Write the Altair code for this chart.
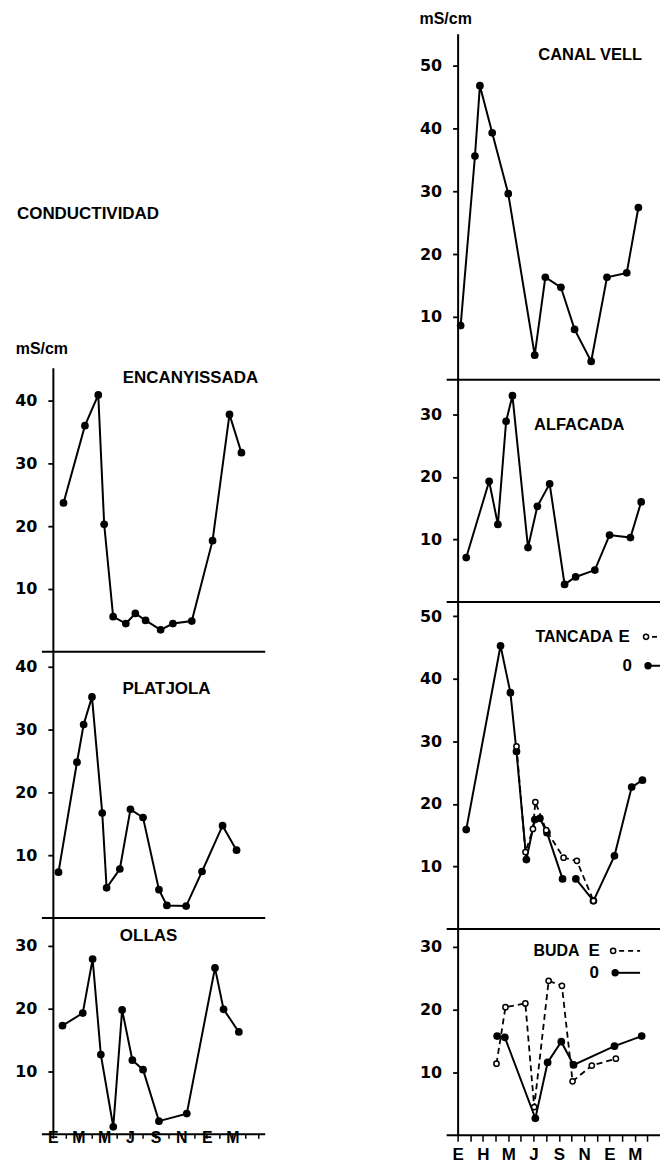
import json
import altair as alt
import pandas as pd

FONT = "Liberation Sans, Arial, sans-serif"
TICK_FONT = "DejaVu Sans, Liberation Sans, sans-serif"

# ---------------- data (x = months from January, y = mS/cm) ----------------
LEFT_XLABELS = ["E", "M", "M", "J", "S", "N", "E", "M"]
RIGHT_XLABELS = ["E", "H", "M", "J", "S", "N", "E", "M"]

ENC_M = [0.83, 2.50, 3.54, 4.00, 4.70, 5.69, 6.43, 7.23, 8.40, 9.36, 10.83, 12.45, 13.77, 14.70]
ENC_V = [23.7, 36.0, 40.9, 20.3, 5.6, 4.5, 6.1, 5.0, 3.5, 4.5, 4.9, 17.7, 37.8, 31.7]

PLA_M = [0.44, 1.88, 2.40, 3.05, 3.85, 4.19, 5.22, 6.05, 7.03, 8.27, 8.89, 10.39, 11.63, 13.23, 14.32]
PLA_V = [7.3, 24.8, 30.8, 35.2, 16.7, 4.8, 7.8, 17.3, 16.0, 4.5, 2.0, 1.9, 7.4, 14.7, 10.8]

OLL_M = [0.75, 2.33, 3.10, 3.74, 4.71, 5.40, 6.20, 7.03, 8.27, 10.44, 12.64, 13.31, 14.50]
OLL_V = [17.3, 19.3, 27.9, 12.7, 1.2, 19.8, 11.8, 10.3, 2.1, 3.3, 26.5, 19.9, 16.3]

CAN_M = [0.24, 1.37, 1.76, 2.73, 4.00, 6.09, 6.93, 8.16, 9.24, 10.55, 11.80, 13.36, 14.28]
CAN_V = [8.6, 35.6, 46.8, 39.3, 29.6, 3.9, 16.3, 14.7, 8.0, 2.9, 16.3, 17.0, 27.4]

ALF_M = [0.68, 2.49, 3.18, 3.83, 4.33, 5.56, 6.30, 7.27, 8.45, 9.32, 10.84, 12.00, 13.65, 14.50]
ALF_V = [7.1, 19.3, 12.4, 28.9, 33.0, 8.7, 15.3, 18.9, 2.8, 4.0, 5.1, 10.7, 10.3, 16.0]

TAN_O_M = [0.68, 3.39, 4.17, 4.65, 5.43, 6.10, 6.50, 7.06, 8.29, 9.34, 10.73, 12.39, 13.75, 14.60]
TAN_O_V = [15.9, 45.3, 37.8, 28.4, 11.1, 17.5, 17.7, 15.4, 8.0, 8.0, 4.5, 11.7, 22.7, 23.8]
TAN_O_SEG = [0, 0, 0, 0, 0, 0, 0, 0, 0, 1, 1, 1, 1, 1]
TAN_E_M = [4.65, 5.36, 5.95, 6.14, 7.00, 8.37, 9.42, 10.73]
TAN_E_V = [29.2, 12.3, 16.0, 20.3, 15.8, 11.4, 10.9, 4.5]

BUD_O_M = [3.12, 3.73, 6.14, 7.11, 8.19, 9.16, 12.39, 14.54]
BUD_O_V = [15.8, 15.6, 2.7, 11.6, 14.9, 11.2, 14.2, 15.8]
BUD_E_M = [3.07, 3.78, 5.35, 6.05, 7.19, 8.24, 9.08, 10.60, 12.50]
BUD_E_V = [11.4, 20.4, 21.0, 4.5, 24.6, 23.8, 8.6, 11.1, 12.2]

ONE = pd.DataFrame({"z": [0]})


def sdf(m, v, seg=None):
    return pd.DataFrame({"m": m, "v": v, "seg": seg if seg else [0] * len(m)})


def label_expr(labels):
    return ("datum.value % 2 == 0 && datum.value / 2 < " + str(len(labels))
            + " ? " + json.dumps(labels) + "[datum.value / 2] : ''")


def text_layer(txt, x, y, size=16, align="center", opacity=1):
    return alt.Chart(ONE).mark_text(
        text=txt, font=FONT, fontSize=size, fontWeight="bold", color="black",
        align=align, baseline="middle", opacity=opacity,
    ).encode(x=alt.value(x), y=alt.value(y))


def panel(w, h, xmax, ymax, yticks, series, extras, xaxis=None, sep_left=-11, sep_right=2):
    xs = alt.Scale(domain=[0, xmax], nice=False, zero=False)
    ys = alt.Scale(domain=[0, ymax], nice=False, zero=False)
    yaxis = alt.Axis(values=yticks, tickSize=5, labelPadding=11, title=None, grid=False,
                     domainWidth=2, tickWidth=1.8, labelFont=TICK_FONT, labelFontSize=16)
    layers = [
        alt.Chart(ONE).mark_rule(color="black", strokeWidth=2).encode(
            y=alt.Y("z:Q", scale=ys, axis=yaxis),
            x=alt.value(sep_left), x2=alt.value(w + sep_right))
    ]
    for df, dashed, filled in series:
        line_kw = dict(color="black", strokeWidth=2)
        if dashed:
            line_kw["strokeDash"] = [6, 4]
            line_kw["strokeWidth"] = 1.8
        layers.append(alt.Chart(df).mark_line(**line_kw).encode(
            x=alt.X("m:Q", scale=xs, axis=xaxis),
            y=alt.Y("v:Q", scale=ys, axis=yaxis),
            detail="seg:N"))
        if filled:
            pt = alt.Chart(df).mark_point(
                filled=True, shape="circle", size=60, color="black", opacity=1)
        else:
            pt = alt.Chart(df).mark_point(
                filled=True, shape="circle", size=28, fill="white", stroke="black",
                strokeWidth=1.5, opacity=1)
        layers.append(pt.encode(x=alt.X("m:Q", scale=xs, axis=xaxis),
                                y=alt.Y("v:Q", scale=ys, axis=yaxis)))
    layers += extras
    return alt.layer(*layers).properties(width=w, height=h)


LW, RW = 211, 201
LXMAX, RXMAX = 16.4, 15.83

left_xaxis = alt.Axis(values=list(range(0, 17)), labelExpr=label_expr(LEFT_XLABELS),
                      tickSize=4, labelPadding=-1, labelBaseline="middle", domain=False,
                      title=None, grid=False, labelFontSize=16, labelOverlap=False,
                      labelFlush=False, tickWidth=1.5)
right_xaxis = alt.Axis(values=list(range(0, 16)), labelExpr=label_expr(RIGHT_XLABELS),
                       tickSize=6, labelPadding=5, domain=False, title=None, grid=False,
                       labelFontSize=17, labelOverlap=False, labelFlush=False, tickWidth=1.5)

# left column
spacer = alt.layer(
    text_layer(".", 100, -15, size=16, opacity=0),
    text_layer("CONDUCTIVIDAD", -36, 181, size=17, align="left"),
    text_layer("mS/cm", -11, 316, size=16),
).properties(width=LW, height=335)

enc = panel(LW, 285, LXMAX, 285 / 6.3, [10, 20, 30, 40],
            [(sdf(ENC_M, ENC_V), False, True)],
            [text_layer("ENCANYISSADA", 138, 10, size=17)])
pla = panel(LW, 267, LXMAX, 267 / 6.3, [10, 20, 30, 40],
            [(sdf(PLA_M, PLA_V), False, True)],
            [text_layer("PLATJOLA", 114, 37, size=17)])
oll = panel(LW, 217, LXMAX, 217 / 6.3, [10, 20, 30],
            [(sdf(OLL_M, OLL_V), False, True)],
            [text_layer("OLLAS", 96, 18, size=17)], xaxis=left_xaxis)

# right column
can = panel(RW, 347, RXMAX, 347 / 6.3, [10, 20, 30, 40, 50],
            [(sdf(CAN_M, CAN_V), False, True)],
            [text_layer("CANAL VELL", 133, 21, size=16.5),
             text_layer("mS/cm", -12, -15, size=16)])
alf = panel(RW, 223, RXMAX, 223 / 6.27, [10, 20, 30],
            [(sdf(ALF_M, ALF_V), False, True)],
            [text_layer("ALFACADA", 122, 46, size=16.5)])


def legend(y_e, y_o, x_e, x_o, x_mark, x_end):
    return [
        text_layer("E", x_e, y_e, size=17),
        text_layer("0", x_o, y_o, size=17),
        alt.Chart(ONE).mark_point(filled=True, shape="circle", size=26, fill="white",
                                  stroke="black", strokeWidth=1.5, opacity=1).encode(
            x=alt.value(x_mark), y=alt.value(y_e)),
        alt.Chart(ONE).mark_rule(color="black", strokeWidth=1.8, strokeDash=[5, 4]).encode(
            x=alt.value(x_mark + 6), x2=alt.value(x_end), y=alt.value(y_e)),
        alt.Chart(ONE).mark_point(filled=True, shape="circle", size=55, color="black",
                                  opacity=1).encode(x=alt.value(x_mark + 2), y=alt.value(y_o)),
        alt.Chart(ONE).mark_rule(color="black", strokeWidth=2).encode(
            x=alt.value(x_mark + 2), x2=alt.value(x_end), y=alt.value(y_o)),
    ]


tan = panel(RW, 328, RXMAX, 328 / 6.27, [10, 20, 30, 40, 50],
            [(sdf(TAN_O_M, TAN_O_V, TAN_O_SEG), False, True),
             (sdf(TAN_E_M, TAN_E_V), True, False)],
            [text_layer("TANCADA", 78, 35, size=16, align="left")]
            + legend(35, 64, 167, 170, 189, 203))
bud = panel(RW, 207, RXMAX, 207 / 6.3, [10, 20, 30],
            [(sdf(BUD_O_M, BUD_O_V), False, True),
             (sdf(BUD_E_M, BUD_E_V), True, False)],
            [text_layer("BUDA", 76, 22, size=16, align="left")]
            + legend(22, 44, 137, 137, 156, 183),
            xaxis=right_xaxis)

left = alt.vconcat(spacer, enc, pla, oll, spacing=0, bounds="flush")
right = alt.vconcat(can, alf, tan, bud, spacing=0, bounds="flush")

chart = alt.hconcat(left, right, spacing=153).properties(
    padding={"left": 6, "top": 1, "right": 0, "bottom": 0}
).configure_view(stroke=None).configure_axis(
    labelFont=FONT, labelFontSize=16, labelFontWeight="bold", labelColor="black",
    domainColor="black", tickColor="black",
)

chart.save("out.html", embed_options={"renderer": "svg", "actions": False})
